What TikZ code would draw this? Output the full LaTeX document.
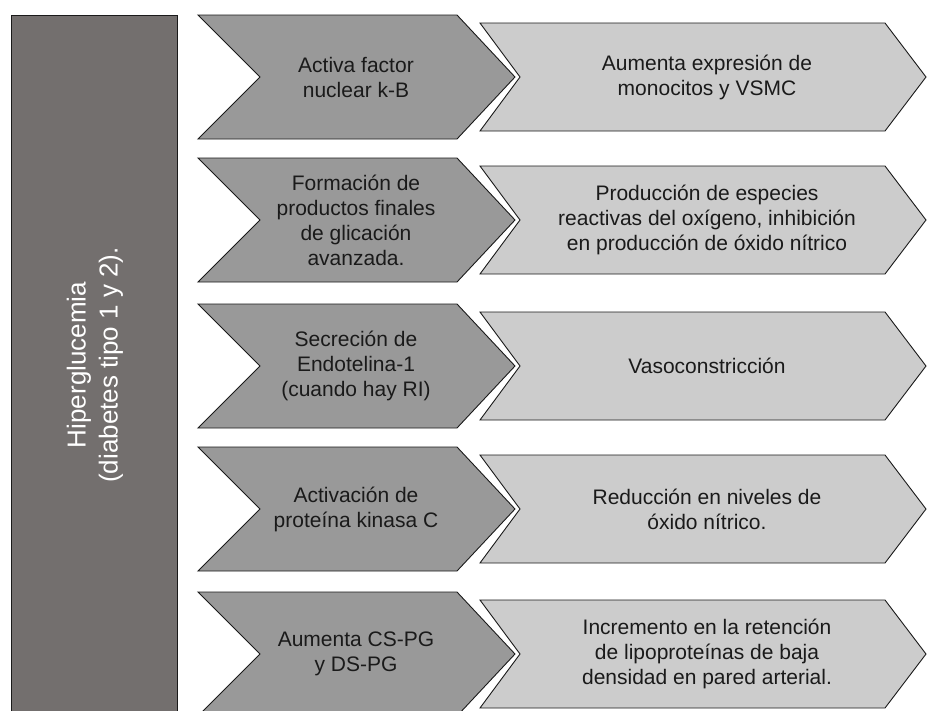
\documentclass[tikz,border=0pt]{standalone}
\usepackage{fontspec}
\setmainfont{Liberation Sans}
\definecolor{rectgray}{HTML}{736F6E}
\definecolor{darkgray}{HTML}{999999}
\definecolor{lightgray}{HTML}{CCCCCC}
\definecolor{edge}{HTML}{1A1A1A}
\tikzset{
  mainbox/.style={draw=edge, line width=0.9pt, fill=rectgray},
  darkchev/.style={draw=edge, line width=0.9pt, fill=darkgray, line join=miter},
  lightchev/.style={draw=edge, line width=0.9pt, fill=lightgray, line join=miter},
  chevtxt/.style={align=center, text=edge, inner sep=0pt, font=\fontsize{21}{25}\selectfont},
  sidetxt/.style={align=center, text=white, inner sep=0pt, rotate=90, font=\fontsize{26}{32}\selectfont}
}
\newcommand\chevrow[5]{%
  \draw[darkchev] (198,{#1-62}) -- (457,{#1-62}) -- (515,#1) -- (457,{#1+62}) -- (198,{#1+62}) -- (260,#1) -- cycle;
  \draw[lightchev] (480,{#1-54}) -- (885,{#1-54}) -- (926,#1) -- (885,{#1+54}) -- (480,{#1+54}) -- (520,#1) -- cycle;
  \node[chevtxt] (#2) at (356,#1) {#3};
  \node[chevtxt] (#4) at (707,#1) {#5};
}
\begin{document}
\begin{tikzpicture}[x=1pt,y=-1pt]
\useasboundingbox (0,0) rectangle (927,710);
\clip (0,0) rectangle (927,710);
\draw[mainbox] (11,15) rectangle (177,716);
\node[sidetxt] (hg) at (95,365) {Hiperglucemia\\(diabetes tipo 1 y 2).};
\chevrow{77}{a1}{Activa factor\\nuclear k-B}{b1}{Aumenta expresión de\\monocitos y VSMC}
\chevrow{220}{a2}{Formación de\\productos finales\\de glicación\\avanzada.}{b2}{Producción de especies\\reactivas del oxígeno, inhibición\\en producción de óxido nítrico}
\chevrow{366}{a3}{Secreción de\\Endotelina-1\\(cuando hay RI)}{b3}{Vasoconstricción}
\chevrow{509}{a4}{Activación de\\proteína kinasa C}{b4}{Reducción en niveles de\\óxido nítrico.}
\chevrow{654}{a5}{Aumenta CS-PG\\y DS-PG}{b5}{Incremento en la retención\\de lipoproteínas de baja\\densidad en pared arterial.}
\end{tikzpicture}
\end{document}
